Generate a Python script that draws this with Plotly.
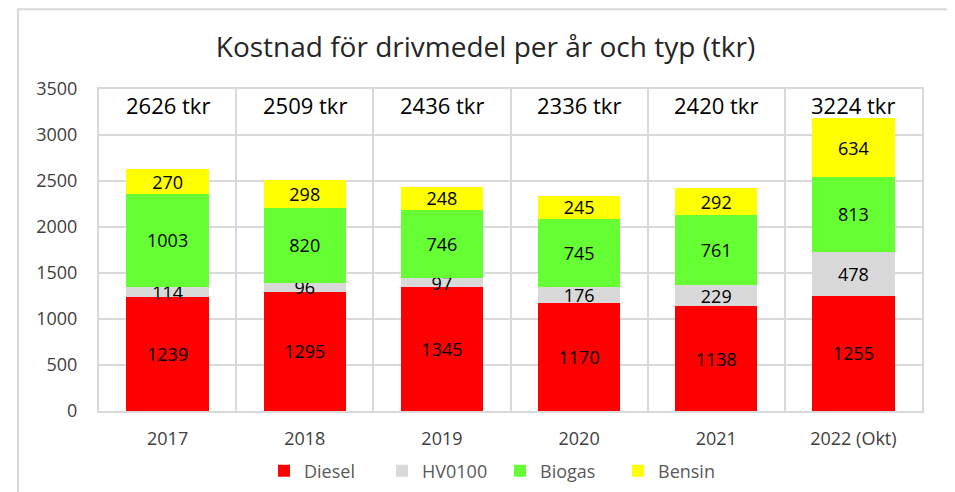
import plotly.graph_objects as go

years = ["2017", "2018", "2019", "2020", "2021", "2022 (Okt)"]
diesel = [1239, 1295, 1345, 1170, 1138, 1255]
hvo100 = [114, 96, 97, 176, 229, 478]
biogas = [1003, 820, 746, 745, 761, 813]
bensin = [270, 298, 248, 245, 292, 634]
totals = [2626, 2509, 2436, 2336, 2420, 3224]

series = [
    ("Diesel", diesel, "#ff0000"),
    ("HV0100", hvo100, "#d9d9d9"),
    ("Biogas", biogas, "#66ff33"),
    ("Bensin", bensin, "#ffff00"),
]

font = "Open Sans"
grid = "#d9d9d9"

fig = go.Figure()
for name, vals, col in series:
    fig.add_bar(x=years, y=vals, name=name, marker=dict(color=col, line=dict(width=0)),
                text=[str(v) for v in vals], textposition="inside",
                insidetextanchor="middle", textangle=0, constraintext="none",
                textfont=dict(family=font, size=18, color="#000000"))

# totals above each bar (category index used as x)
for i, tot in enumerate(totals):
    fig.add_annotation(x=i, y=3325, text=f"{tot} tkr", showarrow=False,
                       font=dict(family=font, size=22, color="#000000"))

# outer chart frame
fig.add_shape(type="rect", xref="paper", yref="paper",
              x0=-0.0984, x1=1.0377, y0=-0.4, y1=1.2477,
              line=dict(color=grid, width=2), layer="below")

fig.update_layout(
    barmode="stack", bargap=0.4,
    width=955, height=492,
    margin=dict(l=91, r=41, t=81, b=88),
    paper_bgcolor="white", plot_bgcolor="white",
    font=dict(family=font, size=18, color="#404040"),
    title=dict(text="Kostnad för drivmedel per år och typ (tkr)", x=0.5, xanchor="center",
               y=0.9207, yanchor="middle", font=dict(family=font, size=28, color="#262626")),
    legend=dict(orientation="h", x=0.2005, xanchor="left", y=-0.183, yanchor="middle",
                font=dict(family=font, size=18, color="#595959"),
                entrywidth=73, entrywidthmode="pixels", traceorder="normal"),
    showlegend=True,
)
fig.update_xaxes(type="category", tickson="boundaries", showgrid=True, gridcolor=grid,
                 gridwidth=2, ticks="", ticklabelstandoff=10,
                 showline=True, linecolor=grid, linewidth=2,
                 mirror=True, tickangle=0, tickfont=dict(size=18, color="#404040"))
fig.update_yaxes(range=[0, 3500], dtick=500, showgrid=True, gridcolor=grid, gridwidth=2,
                 zeroline=False, showline=True, linecolor=grid, linewidth=2, mirror=True,
                 ticks="outside", ticklen=16, tickcolor="rgba(0,0,0,0)",
                 tickfont=dict(size=18, color="#404040"))

fig.write_html("out.html")
